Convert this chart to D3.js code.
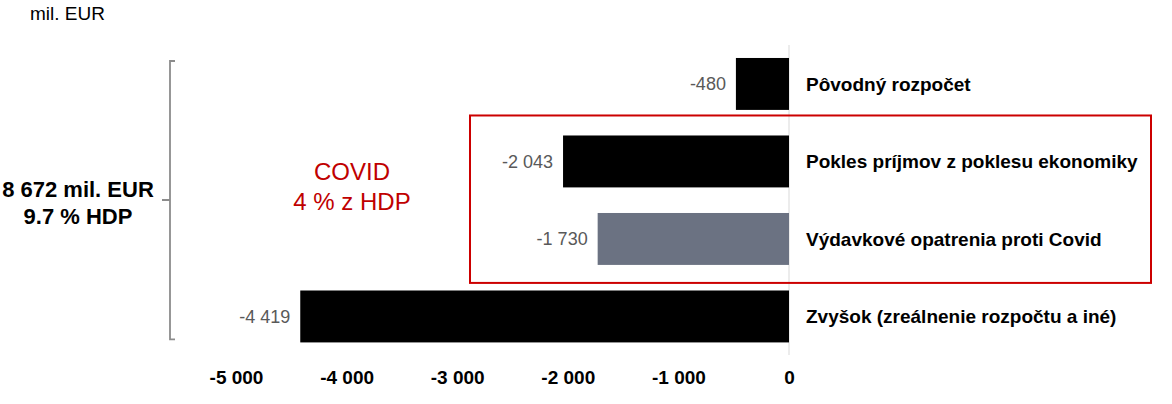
<!DOCTYPE html>
<html>
<head>
    <meta charset="utf-8">
    <style>
        body {
            margin: 0;
            background: white;
            font-family: 'Liberation Sans', Arial, sans-serif;
        }

        svg {
            overflow: visible;
        }

        .x .domain,
        .x .tick line {
            display: none;
        }

        .x .tick text {
            font-size: 19px;
            font-weight: bold;
            fill: #000;
        }

        .cat-label {
            font-size: 19px;
            font-weight: bold;
            fill: #000;
        }

        .val-label {
            font-size: 18px;
            fill: #595959;
        }
    </style>
</head>
<body>
    <svg width="1172" height="404"></svg>

<script src="https://d3js.org/d3.v7.min.js"></script>
<script>
    // data
    let categories = ["Pôvodný rozpočet", "Pokles príjmov z poklesu ekonomiky", "Výdavkové opatrenia proti Covid", "Zvyšok (zreálnenie rozpočtu a iné)"];
    let values = [-480, -2043, -1730, -4419];
    let barColors = ["#000000", "#000000", "#6b7282", "#000000"];
    let xTicks = [-5000, -4000, -3000, -2000, -1000, 0];
    let unitLabel = "mil. EUR";
    let totalLines = ["8 672 mil. EUR", "9.7 % HDP"];
    let covidLines = ["COVID", "4 % z HDP"];
    let covidGroup = ["Pokles príjmov z poklesu ekonomiky", "Výdavkové opatrenia proti Covid"];

    let svg = d3.select("svg");

    let locale = d3.formatLocale({ decimal: ".", thousands: " ", grouping: [3], currency: ["", ""], minus: "-" });
    let fmt = locale.format(",d");

    let x = d3.scaleLinear()
        .domain([-5000, 0])
        .range([236, 789]);

    let y = d3.scaleBand()
        .domain(categories)
        .range([32.4, 368])
        .padding(0.33);

    // zero line
    svg.append("line")
        .attr("x1", x(0)).attr("x2", x(0))
        .attr("y1", 45).attr("y2", 355)
        .style("stroke", "#d9d9d9")
        .style("stroke-width", 1);

    // red frame round the covid rows
    let boxTop = y(covidGroup[0]) - 20;
    let boxBottom = y(covidGroup[1]) + y.bandwidth() + 18;
    svg.append("rect")
        .attr("x", 470)
        .attr("y", boxTop)
        .attr("width", 681)
        .attr("height", boxBottom - boxTop)
        .style("fill", "none")
        .style("stroke", "#cc0000")
        .style("stroke-width", 2);

    // bars
    svg.append("g")
        .selectAll("rect")
        .data(categories)
        .join("rect")
        .attr("x", (d, i) => x(values[i]))
        .attr("y", d => y(d))
        .attr("width", (d, i) => x(0) - x(values[i]))
        .attr("height", y.bandwidth())
        .style("fill", (d, i) => barColors[i]);

    // value labels
    svg.append("g")
        .selectAll("text")
        .data(categories)
        .join("text")
        .attr("class", "val-label")
        .attr("x", (d, i) => x(values[i]) - 10)
        .attr("y", d => y(d) + y.bandwidth() / 2)
        .attr("dy", "0.36em")
        .attr("text-anchor", "end")
        .text((d, i) => fmt(values[i]));

    // category labels
    svg.append("g")
        .selectAll("text")
        .data(categories)
        .join("text")
        .attr("class", "cat-label")
        .attr("x", x(0) + 17)
        .attr("y", d => y(d) + y.bandwidth() / 2)
        .attr("dy", "0.36em")
        .text(d => d);

    // x axis
    let xAxisSettings = d3.axisBottom(x)
        .tickValues(xTicks)
        .tickSize(0)
        .tickPadding(0)
        .tickFormat(d => fmt(d));

    svg.append("g")
        .attr("class", "x axis")
        .attr("transform", "translate(0,370)")
        .call(xAxisSettings)
        .selectAll("text")
        .attr("dy", "0.71em");

    // unit label
    svg.append("text")
        .attr("x", 30)
        .attr("y", 20)
        .style("font-size", "19px")
        .style("fill", "#000")
        .text(unitLabel);

    // bracket on the left
    let bTop = y(categories[0]) + 3;
    let bBottom = y(categories[3]) + y.bandwidth() - 3;
    let bMid = 200;
    svg.append("path")
        .attr("d", `M175,${bTop} H170 V${bBottom} H175 M162,${bMid} H170`)
        .style("fill", "none")
        .style("stroke", "#8c8c8c")
        .style("stroke-width", 1.8);

    svg.append("text")
        .attr("text-anchor", "middle")
        .style("font-size", "22px")
        .style("font-weight", "bold")
        .style("fill", "#000")
        .selectAll("tspan")
        .data(totalLines)
        .join("tspan")
        .attr("x", 78)
        .attr("y", (d, i) => 197 + i * 27)
        .text(d => d);

    svg.append("text")
        .attr("text-anchor", "middle")
        .style("font-size", "24px")
        .style("fill", "#c00000")
        .selectAll("tspan")
        .data(covidLines)
        .join("tspan")
        .attr("x", 352)
        .attr("y", (d, i) => 180 + i * 30)
        .text(d => d);
</script>
</body>
</html>
